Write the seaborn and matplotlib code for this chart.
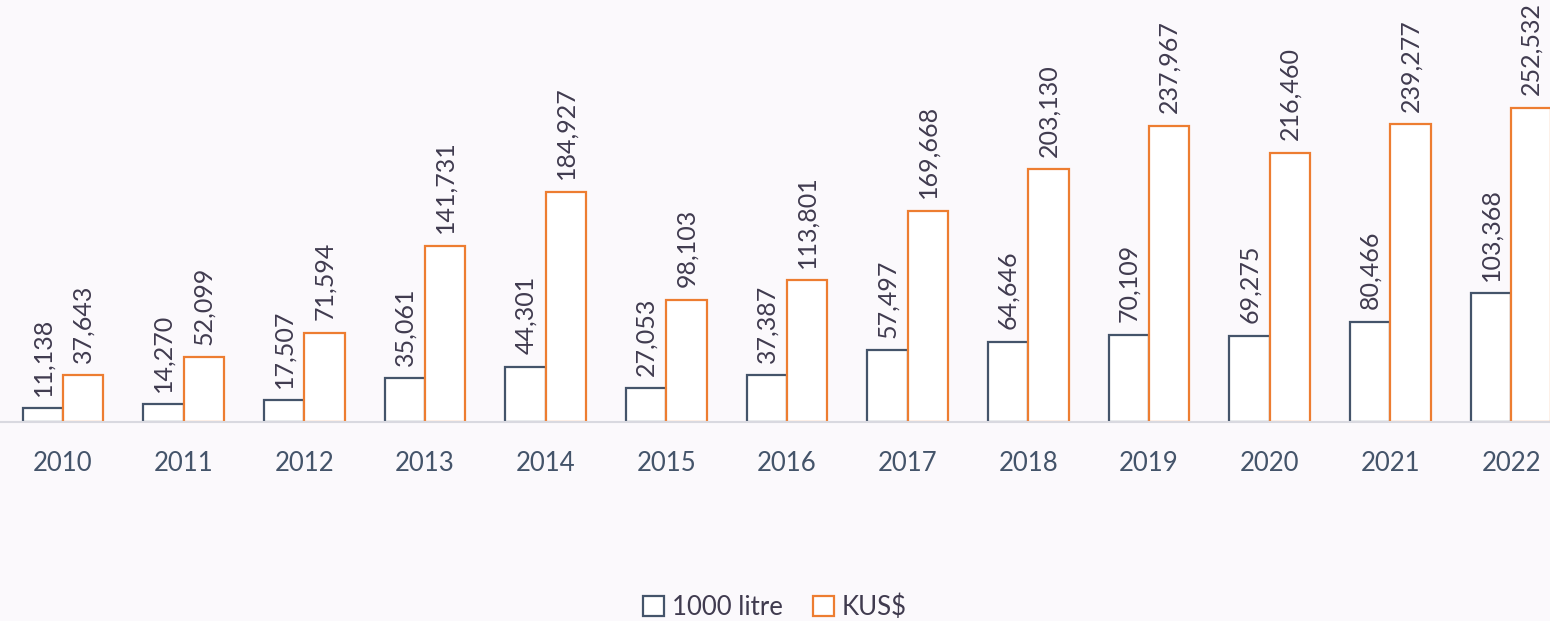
import matplotlib
matplotlib.use("Agg")
import matplotlib.pyplot as plt
import seaborn as sns
import pandas as pd
from matplotlib.patches import Patch

years = ["2010", "2011", "2012", "2013", "2014", "2015", "2016", "2017", "2018", "2019", "2020", "2021", "2022"]
litre = [11138, 14270, 17507, 35061, 44301, 27053, 37387, 57497, 64646, 70109, 69275, 80466, 103368]
kusd = [37643, 52099, 71594, 141731, 184927, 98103, 113801, 169668, 203130, 237967, 216460, 239277, 252532]
series_names = ["1000 litre", "KUS$"]

BG = "#FBF9FC"
NAVY = "#44546A"
ORANGE = "#ED7D31"
TXT = "#403B4F"

sns.set_theme(style="white")
plt.rcParams["font.family"] = ["Lato", "DejaVu Sans"]

df = pd.DataFrame({
    "year": years * 2,
    "value": litre + kusd,
    "series": [series_names[0]] * len(years) + [series_names[1]] * len(years),
})

fig = plt.figure(figsize=(15.5, 6.21), dpi=100, facecolor=BG)
ax = fig.add_axes([0.0, (621 - 422) / 621, 1.0, 422 / 621])
ax.set_facecolor(BG)

sns.barplot(data=df, x="year", y="value", hue="series", order=years,
            hue_order=series_names, palette=[NAVY, ORANGE], width=0.67,
            ax=ax, legend=False)

for cont, col in zip(ax.containers, [NAVY, ORANGE]):
    for p in cont:
        p.set_facecolor("white")
        p.set_edgecolor(col)
        p.set_linewidth(1.6)
    ax.bar_label(cont, labels=[f"{v:,.0f}" for v in cont.datavalues],
                 rotation=90, padding=9, fontsize=18, color=TXT)

ax.set_ylim(0, 339000)
ax.set_xlim(-0.522, 12.323)
ax.set_xlabel("")
ax.set_ylabel("")
ax.set_yticks([])
for s in ["top", "right", "left"]:
    ax.spines[s].set_visible(False)
ax.spines["bottom"].set_color("#D9D9E0")
ax.spines["bottom"].set_linewidth(1.5)
ax.tick_params(axis="x", length=0, pad=21, labelsize=18.5, labelcolor=NAVY)

handles = [Patch(facecolor="white", edgecolor=NAVY, linewidth=1.6),
           Patch(facecolor="white", edgecolor=ORANGE, linewidth=1.6)]
fig.legend(handles, series_names, loc="center", bbox_to_anchor=(0.5, 1 - 607 / 621),
           ncol=2, frameon=False, fontsize=18.5, handlelength=0.8, handleheight=0.8,
           handletextpad=0.3, columnspacing=1.2, labelcolor=TXT)

fig.savefig("out.png", dpi=100, facecolor=BG)
